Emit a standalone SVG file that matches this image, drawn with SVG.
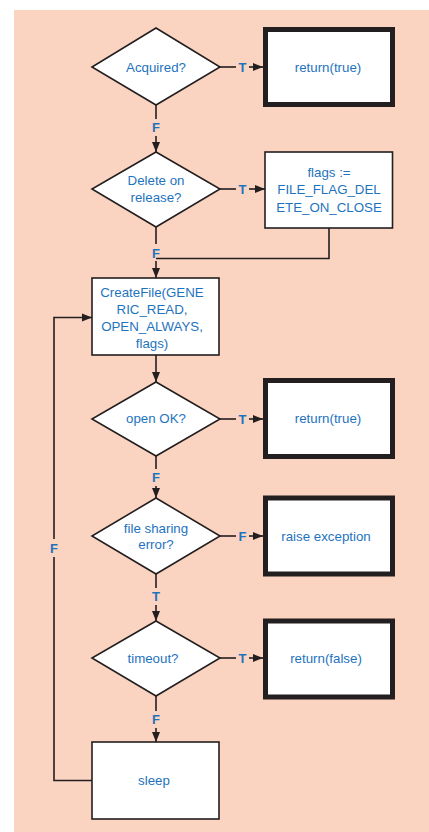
<svg xmlns="http://www.w3.org/2000/svg" width="429" height="832" viewBox="0 0 429 832">
<defs>
<marker id="ah" markerUnits="userSpaceOnUse" markerWidth="10" markerHeight="10" viewBox="0 0 10 10" refX="10" refY="5" orient="auto">
<path d="M0,1 L10,5 L0,9 Z" fill="#231f20"/>
</marker>
</defs>
<style>
.bg{fill:#fbd3c1}
.n{fill:#fff;stroke:#231f20;stroke-width:1.6}
.t{fill:#fff;stroke:#231f20;stroke-width:5}
.tx{font-family:"Liberation Sans",Arial,sans-serif;font-size:13.3px;fill:#1e73be;text-anchor:middle;dominant-baseline:central}
.lb{font-family:"Liberation Sans",Arial,sans-serif;font-size:13px;font-weight:bold;fill:#1e73be;text-anchor:middle;dominant-baseline:central}
.c{fill:none;stroke:#231f20;stroke-width:1.6}
</style>
<rect class="bg" x="14" y="10" width="415" height="822"/>

<g id="acquired">
<polygon class="n" points="156,28 220,67 156,105 92,67"/>
<text class="tx" x="156" y="67">Acquired?</text>
</g>
<g id="ret1">
<rect class="t" x="265.5" y="29.5" width="127" height="75"/>
<text class="tx" x="328" y="67">return(true)</text>
</g>
<g id="delete">
<polygon class="n" points="156,152 220,189 156,227 92,189"/>
<text class="tx" x="156" y="180">Delete on</text>
<text class="tx" x="156" y="197">release?</text>
</g>
<g id="flags">
<rect class="n" x="265" y="152" width="127.5" height="76"/>
<text class="tx" x="329" y="172">flags :=</text>
<text class="tx" x="329" y="189.5">FILE_FLAG_DEL</text>
<text class="tx" x="329" y="207">ETE_ON_CLOSE</text>
</g>
<g id="createfile">
<rect class="n" x="92" y="278" width="127" height="77"/>
<text class="tx" x="152" y="292">CreateFile(GENE</text>
<text class="tx" x="152" y="309">RIC_READ,</text>
<text class="tx" x="152" y="326">OPEN_ALWAYS,</text>
<text class="tx" x="152" y="343">flags)</text>
</g>
<g id="openok">
<polygon class="n" points="156,382 220,419 156,456 92,419"/>
<text class="tx" x="156" y="418">open OK?</text>
</g>
<g id="ret2">
<rect class="t" x="265.5" y="380.5" width="127" height="76"/>
<text class="tx" x="328" y="418">return(true)</text>
</g>
<g id="sharing">
<polygon class="n" points="156,498 220,536 156,574 92,536"/>
<text class="tx" x="156" y="528">file sharing</text>
<text class="tx" x="156" y="544.5">error?</text>
</g>
<g id="raise">
<rect class="t" x="265.5" y="498" width="127" height="76"/>
<text class="tx" x="326" y="536">raise exception</text>
</g>
<g id="timeout">
<polygon class="n" points="156,621 220,658 156,696 92,658"/>
<text class="tx" x="153" y="658">timeout?</text>
</g>
<g id="retfalse">
<rect class="t" x="265.5" y="621" width="127" height="76"/>
<text class="tx" x="326" y="658">return(false)</text>
</g>
<g id="sleep">
<rect class="n" x="92" y="742" width="127" height="77"/>
<text class="tx" x="154" y="780">sleep</text>
</g>

<g id="connectors">
<!-- Acquired T -->
<line class="c" x1="220" y1="67" x2="236" y2="67"/>
<text class="lb" x="242.5" y="67">T</text>
<line class="c" x1="249" y1="67" x2="263" y2="67" marker-end="url(#ah)"/>
<!-- Acquired F -->
<line class="c" x1="156" y1="105" x2="156" y2="119"/>
<text class="lb" x="156" y="127">F</text>
<line class="c" x1="156" y1="136" x2="156" y2="152" marker-end="url(#ah)"/>
<!-- Delete T -->
<line class="c" x1="220" y1="189" x2="236" y2="189"/>
<text class="lb" x="242.5" y="189">T</text>
<line class="c" x1="249" y1="189" x2="265" y2="189" marker-end="url(#ah)"/>
<!-- Delete F -->
<line class="c" x1="156" y1="227" x2="156" y2="244"/>
<text class="lb" x="156" y="253">F</text>
<line class="c" x1="156" y1="261" x2="156" y2="278" marker-end="url(#ah)"/>
<!-- flags to merge -->
<polyline class="c" points="329,228 329,258.5 156,258.5"/>
<!-- CreateFile to open OK -->
<line class="c" x1="156" y1="355" x2="156" y2="382" marker-end="url(#ah)"/>
<!-- open OK T -->
<line class="c" x1="220" y1="419" x2="236" y2="419"/>
<text class="lb" x="242.5" y="419">T</text>
<line class="c" x1="249" y1="419" x2="263" y2="419" marker-end="url(#ah)"/>
<!-- open OK F -->
<line class="c" x1="156" y1="456" x2="156" y2="469"/>
<text class="lb" x="156" y="477">F</text>
<line class="c" x1="156" y1="486" x2="156" y2="498" marker-end="url(#ah)"/>
<!-- sharing F -->
<line class="c" x1="220" y1="536" x2="236" y2="536"/>
<text class="lb" x="242.5" y="536">F</text>
<line class="c" x1="249" y1="536" x2="263" y2="536" marker-end="url(#ah)"/>
<!-- sharing T -->
<line class="c" x1="156" y1="574" x2="156" y2="588"/>
<text class="lb" x="156" y="596">T</text>
<line class="c" x1="156" y1="605" x2="156" y2="621" marker-end="url(#ah)"/>
<!-- timeout T -->
<line class="c" x1="220" y1="658" x2="236" y2="658"/>
<text class="lb" x="242.5" y="658">T</text>
<line class="c" x1="249" y1="658" x2="263" y2="658" marker-end="url(#ah)"/>
<!-- timeout F -->
<line class="c" x1="156" y1="696" x2="156" y2="711"/>
<text class="lb" x="156" y="719">F</text>
<line class="c" x1="156" y1="728" x2="156" y2="742" marker-end="url(#ah)"/>
<!-- sleep loop back -->
<polyline class="c" points="92,780.5 54,780.5 54,557"/>
<text class="lb" x="54" y="548">F</text>
<polyline class="c" points="54,539 54,317.5 92,317.5" marker-end="url(#ah)"/>
</g>
</svg>
